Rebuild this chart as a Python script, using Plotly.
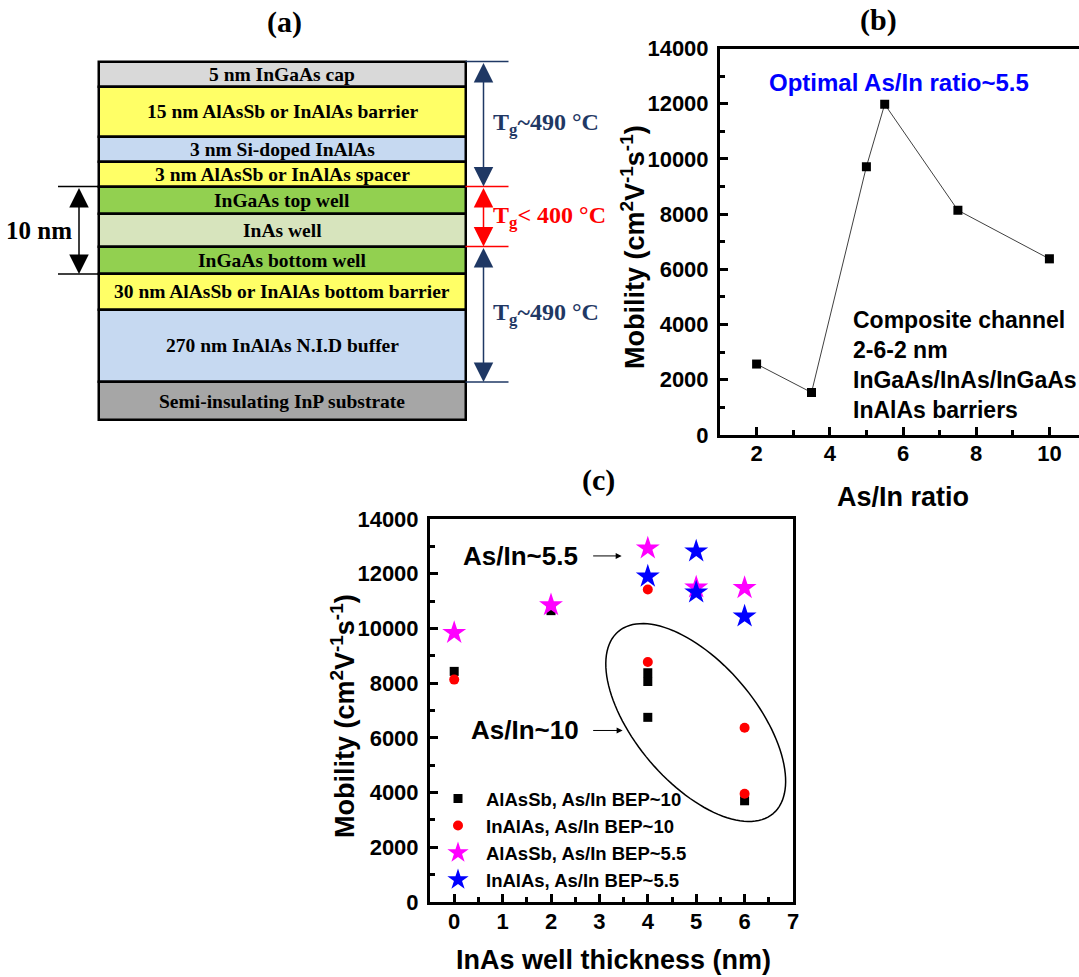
import numpy as np
import plotly.graph_objects as go

W, H = 1079, 977
SERIF = "Liberation Serif"
SANS = "Liberation Sans"

# ---------------- Panel (a): layer stack ----------------
layer_labels = ["5 nm InGaAs cap", "15 nm AlAsSb or InAlAs barrier", "3 nm Si-doped InAlAs",
                "3 nm AlAsSb or InAlAs spacer", "InGaAs top well", "InAs well", "InGaAs bottom well",
                "30 nm AlAsSb or InAlAs bottom barrier", "270 nm InAlAs N.I.D buffer",
                "Semi-insulating InP substrate"]
layer_colors = ["#d9d9d9", "#ffff66", "#c6d9f1", "#ffff66", "#92d050", "#d7e4bd", "#92d050",
                "#ffff66", "#c6d9f1", "#a6a6a6"]
layer_heights = [25, 50, 25.5, 24.5, 27.5, 32.5, 27.5, 35.5, 72.5, 38]   # drawing units
zone_labels = ["T<sub>g</sub>~490 °C", "T<sub>g</sub>< 400 °C", "T<sub>g</sub>~490 °C"]
zone_colors = ["#1f3864", "#ff0000", "#1f3864"]
zone_bounds = [0, 4, 6, 9]          # layer indices where zones start/end
well_span = [4, 7]
well_label = "10 nm"

# ---------------- Panel (b) ----------------
ratio = [2, 3.5, 5, 5.5, 7.5, 10]
mobility_b = [2570, 1540, 9720, 11980, 8140, 6380]

# ---------------- Panel (c) ----------------
alassb10_x = [0, 2, 4, 4, 4, 6]
alassb10_y = [8430, 10650, 8380, 8060, 6750, 3700]
inalas10_x = [0, 4, 4, 6, 6]
inalas10_y = [8130, 11420, 8770, 6370, 3960]
alassb55_x = [0, 2, 4, 5, 6]
alassb55_y = [9840, 10850, 12930, 11500, 11480]
inalas55_x = [4, 5, 5, 6]
inalas55_y = [11900, 12820, 11320, 10440]
legend_names = ["AlAsSb, As/In BEP~10", "InAlAs, As/In BEP~10",
                "AlAsSb, As/In BEP~5.5", "InAlAs, As/In BEP~5.5"]

# ---------------- layout geometry (pixels) ----------------
def PX(p):
    return p / W

def PY(p):
    return 1 - p / H

A_W, A_H = 620, 440
B_L, B_R, B_T, B_B = 720, 1079, 48.5, 435
C_L, C_R, C_T, C_B = 430, 793, 519, 902
B_XR = [1, 1 + (B_R - B_L) / 36.6]
C_XR = [-0.5, 7]
YR = [0, 14000]

fig = go.Figure()

# Panel (a) layers as stacked bars
bases = list(np.cumsum([61.5] + layer_heights[:-1]))
bounds = bases + [bases[-1] + layer_heights[-1]]
BOX_C, BOX_W = 282, 367
fig.add_trace(go.Bar(x=[BOX_C] * len(layer_heights), y=layer_heights, base=bases,
                     width=[BOX_W] * len(layer_heights),
                     marker=dict(color=layer_colors, line=dict(color="black", width=2.5)),
                     xaxis="x3", yaxis="y3", showlegend=False, hoverinfo="skip"))

# Panel (b)
fig.add_trace(go.Scatter(x=ratio, y=mobility_b, mode="lines+markers",
                         line=dict(color="#404040", width=1),
                         marker=dict(symbol="square", size=9, color="black"),
                         showlegend=False, xaxis="x", yaxis="y"))

# Panel (c)
fig.add_trace(go.Scatter(x=alassb10_x, y=alassb10_y, mode="markers", name=legend_names[0],
                         marker=dict(symbol="square", size=9, color="black"), xaxis="x2", yaxis="y2"))
fig.add_trace(go.Scatter(x=inalas10_x, y=inalas10_y, mode="markers", name=legend_names[1],
                         marker=dict(symbol="circle", size=10, color="red"), xaxis="x2", yaxis="y2"))
fig.add_trace(go.Scatter(x=alassb55_x, y=alassb55_y, mode="markers", name=legend_names[2],
                         marker=dict(symbol="star", size=18, color="#ff00ff"), xaxis="x2", yaxis="y2"))
fig.add_trace(go.Scatter(x=inalas55_x, y=inalas55_y, mode="markers", name=legend_names[3],
                         marker=dict(symbol="star", size=18, color="#0000ff"), xaxis="x2", yaxis="y2"))

tickfont = dict(family=SANS, size=22, color="black", weight="bold")
common_ax = dict(showline=True, linewidth=3, linecolor="black", ticks="inside", ticklen=8,
                 tickwidth=3, tickcolor="black", showgrid=False, zeroline=False,
                 tickfont=tickfont, automargin=False, tickformat="d")
minor_ax = dict(ticks="inside", ticklen=5, tickwidth=3, tickcolor="black")

fig.update_layout(
    width=W, height=H, margin=dict(l=0, r=0, t=0, b=0, autoexpand=False),
    paper_bgcolor="white", plot_bgcolor="rgba(0,0,0,0)",
    xaxis=dict(domain=[PX(B_L), PX(B_R)], range=B_XR, dtick=2, tick0=0, mirror=True,
               minor=dict(dtick=1, tick0=0, **minor_ax),
               ticklabelstandoff=-3, anchor="y", **common_ax),
    yaxis=dict(domain=[PY(B_B), PY(B_T)], range=YR, dtick=2000, mirror=False,
               minor=dict(dtick=1000, **minor_ax),
               ticklabelstandoff=4, anchor="x", **common_ax),
    xaxis2=dict(domain=[PX(C_L), PX(C_R)], range=C_XR, dtick=1, tick0=0, mirror=True,
                minor=dict(dtick=0.5, tick0=0, **minor_ax),
                ticklabelstandoff=-2, anchor="y2", **common_ax),
    yaxis2=dict(domain=[PY(C_B), PY(C_T)], range=YR, dtick=2000, mirror=True,
                minor=dict(dtick=1000, **minor_ax),
                ticklabelstandoff=4, anchor="x2", **common_ax),
    xaxis3=dict(domain=[0, PX(A_W)], range=[0, A_W], visible=False, anchor="y3", fixedrange=True,
                automargin=False),
    yaxis3=dict(domain=[PY(A_H), 1], range=[A_H, 0], visible=False, anchor="x3", fixedrange=True,
                automargin=False),
    legend=dict(x=PX(430), y=PY(780), xanchor="left", yanchor="top", bgcolor="rgba(0,0,0,0)",
                font=dict(family=SANS, size=18.5, color="black", weight="bold"),
                itemwidth=46, tracegroupgap=0),
    bargap=0,
)

ann = []
shapes = []

def A(**kw):
    kw.setdefault("showarrow", False)
    kw.setdefault("xanchor", "center")
    kw.setdefault("yanchor", "middle")
    ann.append(kw)

# ---- panel (a) annotations ----
for lab, b, h in zip(layer_labels, bases, layer_heights):
    A(x=BOX_C, y=b + h / 2, xref="x3", yref="y3", text=lab,
      font=dict(family=SERIF, size=19.5, color="black", weight="bold"))
box_r = BOX_C + BOX_W / 2
box_l = BOX_C - BOX_W / 2
line_colors = {zone_bounds[0]: zone_colors[0], zone_bounds[1]: zone_colors[1],
               zone_bounds[2]: zone_colors[1], zone_bounds[3]: zone_colors[2]}
for idx, col in line_colors.items():
    shapes.append(dict(type="line", xref="x3", yref="y3", x0=box_r, x1=box_r + 43,
                       y0=bounds[idx], y1=bounds[idx], line=dict(color=col, width=1.5)))
for i in range(3):
    y0, y1 = bounds[zone_bounds[i]], bounds[zone_bounds[i + 1]]
    ann.append(dict(x=box_r + 18, y=y1, ax=box_r + 18, ay=y0, xref="x3", yref="y3",
                    axref="x3", ayref="y3", text="", showarrow=True, arrowside="end+start",
                    arrowhead=2, startarrowhead=2, arrowsize=2.6, startarrowsize=2.6,
                    arrowwidth=1.5, arrowcolor=zone_colors[i]))
    A(x=box_r + 25, y=(y0 + y1) / 2, xref="x3", yref="y3", text=zone_labels[i], xanchor="left",
      font=dict(family=SERIF, size=24, color=zone_colors[i], weight="bold"))
for idx in well_span:
    shapes.append(dict(type="line", xref="x3", yref="y3", x0=58, x1=box_l,
                       y0=bounds[idx], y1=bounds[idx], line=dict(color="black", width=1.5)))
ann.append(dict(x=79, y=bounds[well_span[1]], ax=79, ay=bounds[well_span[0]], xref="x3", yref="y3",
                axref="x3", ayref="y3", text="", showarrow=True, arrowside="end+start",
                arrowhead=2, startarrowhead=2, arrowsize=2.6, startarrowsize=2.6,
                arrowwidth=1.5, arrowcolor="black"))
A(x=74, y=(bounds[well_span[0]] + bounds[well_span[1]]) / 2, xref="x3", yref="y3",
  text=well_label, xanchor="right", font=dict(family=SERIF, size=25, color="black", weight="bold"))

# ---- panel labels ----
for txt, px, py in [("(a)", 284, 22), ("(b)", 878, 20), ("(c)", 598, 480)]:
    A(x=PX(px), y=PY(py), xref="paper", yref="paper", text=txt,
      font=dict(family=SERIF, size=30, color="black", weight="bold"))

# ---- axis titles ----
mob_title = "Mobility (cm<sup>2</sup>V<sup>-1</sup>s<sup>-1</sup>)"
title_font = dict(family=SANS, size=27, color="black", weight="bold")
A(x=PX(633), y=PY(247), xref="paper", yref="paper", text=mob_title, textangle=-90, font=title_font)
A(x=PX(343), y=PY(716), xref="paper", yref="paper", text=mob_title, textangle=-90, font=title_font)
A(x=PX(903), y=PY(497), xref="paper", yref="paper", text="As/In ratio", font=title_font)
A(x=PX(613), y=PY(960), xref="paper", yref="paper", text="InAs well thickness (nm)", font=title_font)

# ---- panel (b) texts ----
A(x=PX(899), y=PY(82), xref="paper", yref="paper", text="Optimal As/In ratio~5.5",
  font=dict(family=SANS, size=24, color="#0000ff", weight="bold"))
A(x=PX(851), y=PY(364.5), xref="paper", yref="paper", xanchor="left", align="left",
  text="Composite channel<br>2-6-2 nm<br>InGaAs/InAs/InGaAs<br>InAlAs barriers",
  font=dict(family=SANS, size=23, color="black", weight="bold"))

# ---- panel (c) texts and arrows ----
lab_font = dict(family=SANS, size=26, color="black", weight="bold")
for txt, yv, x_txt, x_tail, x_head in [("As/In~5.5", 12650, 2.6, 2.84, 3.46),
                                        ("As/In~10", 6270, 2.63, 2.84, 3.48)]:
    A(x=x_txt, y=yv, xref="x2", yref="y2", text=txt, xanchor="right", font=lab_font)
    ann.append(dict(x=x_head, y=yv, ax=x_tail, ay=yv, xref="x2", yref="y2", axref="x2", ayref="y2",
                    text="", showarrow=True, arrowhead=2, arrowsize=1.2, arrowwidth=1,
                    arrowcolor="black"))

# ellipse around the As/In~10 points (defined in pixels about a data centre)
sx = (C_R - C_L) / (C_XR[1] - C_XR[0])
sy = (C_B - C_T) / (YR[1] - YR[0])
ecx, ecy = 4.99, 6560
ea, eb, eth = 119.5, 60.0, np.deg2rad(49.6)
t = np.linspace(0, 2 * np.pi, 121)
dx = ea * np.cos(eth) * np.cos(t) - eb * np.sin(eth) * np.sin(t)
dy = ea * np.sin(eth) * np.cos(t) + eb * np.cos(eth) * np.sin(t)
ex = ecx + dx / sx
ey = ecy - dy / sy
path = "M " + " L ".join(f"{a:.4f},{b:.2f}" for a, b in zip(ex, ey)) + " Z"
shapes.append(dict(type="path", xref="x2", yref="y2", path=path,
                   line=dict(color="black", width=1.5)))

fig.update_layout(annotations=ann, shapes=shapes)
fig.write_html("out.html")
